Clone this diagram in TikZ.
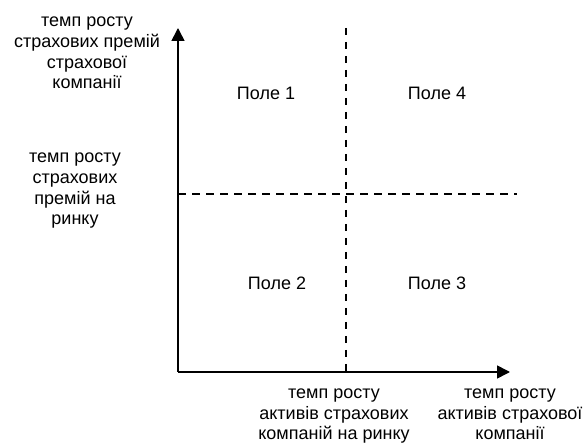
\documentclass[tikz,border=0pt]{standalone}
\usepackage{fontspec}
\setmainfont{Liberation Sans}
\usetikzlibrary{arrows.meta}
\begin{document}
\begin{tikzpicture}[x=1pt,y=-1pt,
  axis/.style={line width=1.6pt,-{Triangle[width=13pt,length=13pt]}},
  guide/.style={line width=1.2pt,dash pattern=on 7.5pt off 6.5pt},
  lbl/.style={font=\fontsize{18pt}{20.7pt}\selectfont,align=center,inner sep=0pt,anchor=base},
  field/.style={font=\fontsize{18pt}{20.7pt}\selectfont,inner sep=0pt,anchor=base}]
\useasboundingbox (0,0) rectangle (587,446);
\coordinate (o) at (178,372);
\coordinate (ytip) at (178,28);
\coordinate (xtip) at (510,372);
\coordinate (vt) at (346,28);
\coordinate (vb) at (346,372);
\coordinate (hl) at (178,194);
\coordinate (hr) at (517,194);
\draw[guide] (vt) -- (vb);
\draw[guide] (hl) -- (hr);
\draw[axis] (o) -- (ytip);
\draw[axis] (o) -- (xtip);
\node[field] (f1) at (266,100) {Поле 1};
\node[field] (f4) at (437,100) {Поле 4};
\node[field] (f2) at (277,290) {Поле 2};
\node[field] (f3) at (437,290) {Поле 3};
\node[lbl] (ly1) at (87,89) {темп росту\\страхових премій\\страхової\\компанії};
\node[lbl] (ly2) at (75,225) {темп росту\\страхових\\премій на\\ринку};
\node[lbl] (lx1) at (334,440) {темп росту\\активів страхових\\компаній на ринку};
\node[lbl] (lx2) at (510,440) {темп росту\\активів страхової\\компанії};
\end{tikzpicture}
\end{document}
